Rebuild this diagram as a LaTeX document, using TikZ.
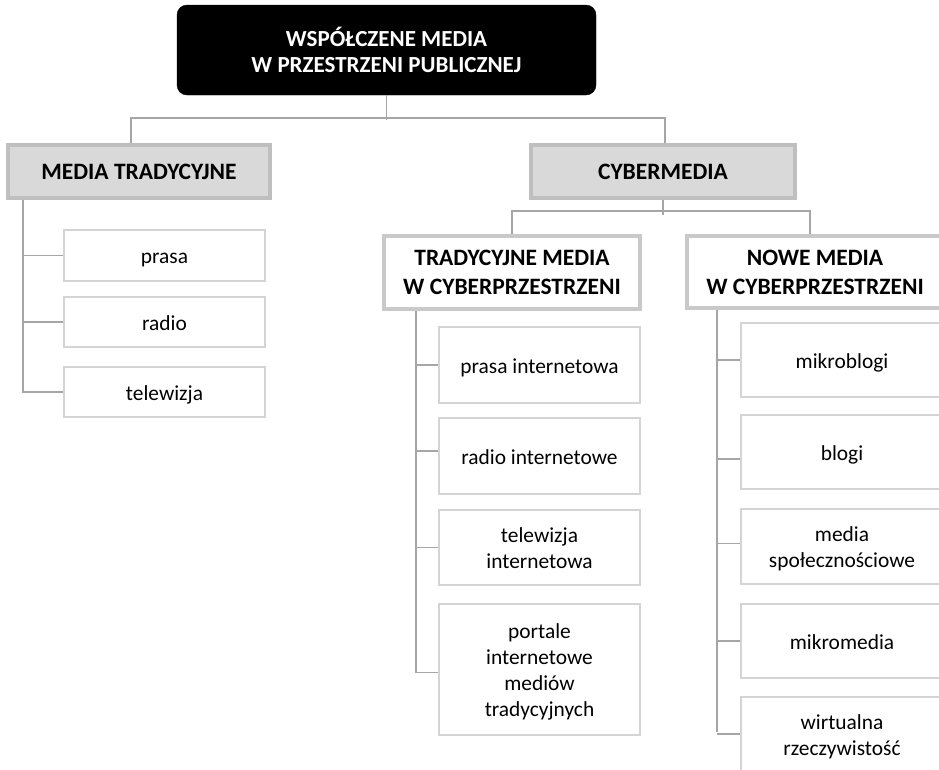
\documentclass[tikz,border=0pt]{standalone}
\usepackage{fontspec}
\setmainfont{Carlito}
\usetikzlibrary{calc}
\definecolor{conncol}{HTML}{A6A6A6}
\definecolor{leafcol}{HTML}{D4D4D4}
\definecolor{subcol}{HTML}{C9C9C9}
\definecolor{catborder}{HTML}{BFBFBF}
\definecolor{catfill}{HTML}{D9D9D9}
\newcommand\lstrut{\rule[-4.8pt]{0pt}{26pt}}
\tikzset{
  conn/.style={draw=conncol, line width=1.3pt},
  topbox/.style={fill=black, draw=black, rounded corners=10pt, text=white, inner sep=0pt,
     font=\fontsize{23}{26}\selectfont\bfseries, align=center},
  catbox/.style={fill=catfill, draw=catborder, line width=4pt, inner sep=0pt,
     font=\fontsize{23.5}{29}\selectfont\bfseries, align=center},
  subbox/.style={fill=white, draw=subcol, line width=4pt, inner sep=0pt,
     font=\fontsize{23.5}{29}\selectfont\bfseries, align=center},
  leafbox/.style={fill=white, draw=leafcol, line width=2.5pt, inner sep=0pt,
     font=\fontsize{21.4}{26}\selectfont, align=center},
}
\begin{document}
\begin{tikzpicture}[x=1pt,y=-1pt]
\useasboundingbox (0,0) rectangle (939,769);
\clip (0,0) rectangle (939,769);
\fill[white] (0,0) rectangle (939,769);

\node[topbox, minimum width=419pt, minimum height=90pt] (top) at (386.5,50) {WSPÓŁCZENE MEDIA\\W PRZESTRZENI PUBLICZNEJ};

\node[catbox, minimum width=262pt, minimum height=53pt] (mt) at (139,171.5) {MEDIA TRADYCYJNE};
\node[catbox, minimum width=264pt, minimum height=53pt] (cm) at (663,171.5) {CYBERMEDIA};

\node[leafbox, minimum width=201pt, minimum height=51pt] (prasa) at (164.5,255.5) {\lstrut prasa};
\node[leafbox, minimum width=201pt, minimum height=50pt] (radio) at (164.5,322) {\lstrut radio};
\node[leafbox, minimum width=201pt, minimum height=50pt] (tv) at (164.5,392) {\lstrut telewizja};

\node[subbox, minimum width=256pt, minimum height=73pt] (tmc) at (512,272.5) {TRADYCYJNE MEDIA\\W CYBERPRZESTRZENI};
\node[subbox, minimum width=256pt, minimum height=72pt] (nmc) at (815,272) {NOWE MEDIA\\W CYBERPRZESTRZENI};

\node[leafbox, minimum width=201pt, minimum height=76pt] (pi) at (539.5,365) {\lstrut prasa internetowa};
\node[leafbox, minimum width=201pt, minimum height=76pt] (ri) at (539.5,456) {\lstrut radio internetowe};
\node[leafbox, minimum width=201pt, minimum height=75pt] (ti) at (539.5,547.5) {\lstrut telewizja\\internetowa\lstrut};
\node[leafbox, minimum width=201pt, minimum height=131pt] (po) at (539.5,669.5) {\lstrut portale\\internetowe\\mediów\\tradycyjnych\lstrut};

\node[leafbox, minimum width=202pt, minimum height=74pt] (mb) at (842,360) {\lstrut mikroblogi};
\node[leafbox, minimum width=202pt, minimum height=74pt] (bl) at (842,452) {\lstrut blogi};
\node[leafbox, minimum width=202pt, minimum height=75pt] (ms) at (842,546.5) {\lstrut media\\społecznościowe\lstrut};
\node[leafbox, minimum width=202pt, minimum height=74pt] (mm) at (842,641) {\lstrut mikromedia};
\node[leafbox, minimum width=202pt, minimum height=74pt] (wr) at (842,734) {\lstrut wirtualna\\rzeczywistość\lstrut};

% top level
\draw[conn] (top.south) -- ++(0,25);
\draw[conn] ([xshift=-8pt]mt.north) -- ++(0,-25) -| ([xshift=2pt]cm.north);

% cybermedia
\draw[conn] (cm.south) -- ++(0,15);
\draw[conn] (tmc.north) -- ++(0,-23) -| ([xshift=-5pt]nmc.north);

% left tree
\coordinate (t1) at ([xshift=17pt]mt.south west);
\draw[conn] (t1) |- (tv.west);
\draw[conn] (prasa.west) -- (prasa.west -| t1);
\draw[conn] (radio.west) -- (radio.west -| t1);

% middle tree
\coordinate (t2) at ([xshift=34pt]tmc.south west);
\draw[conn] (t2) |- ([yshift=-3pt]po.west);
\draw[conn] (pi.west) -- (pi.west -| t2);
\draw[conn] ([yshift=5pt]ri.west) -- ([yshift=5pt]ri.west -| t2);
\draw[conn] (ti.west) -- (ti.west -| t2);

% right tree
\coordinate (t3) at ([xshift=32pt]nmc.south west);
\draw[conn] (t3) -- ([yshift=2pt]t3 |- wr.west);
\draw[conn] (mb.west) -- (mb.west -| t3);
\draw[conn] ([yshift=-7pt]bl.west) -- ([yshift=-7pt]bl.west -| t3);
\draw[conn] ([yshift=3pt]ms.west) -- ([yshift=3pt]ms.west -| t3);
\draw[conn] (mm.west) -- (mm.west -| t3);
\draw[conn] (wr.west) -- (wr.west -| t3);
\end{tikzpicture}
\end{document}
